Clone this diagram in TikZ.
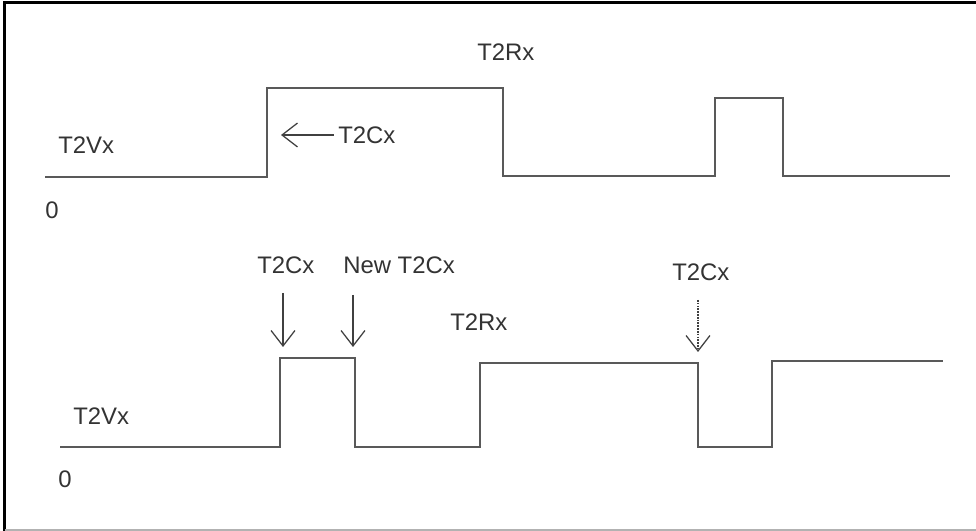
\documentclass[tikz,border=0pt]{standalone}
\usepackage{fontspec}
\setmainfont{Liberation Sans}
\usetikzlibrary{arrows.meta}
\begin{document}
\begin{tikzpicture}[x=.025cm,y=-.025cm,
  wave/.style={draw=black!65,line width=1.6pt,line join=miter},
  lbl/.style={inner sep=0,anchor=west,text=black!80,font=\fontsize{17}{20}\selectfont},
  ptr/.style={draw=black!75,line width=.9pt,-{Straight Barb[length=11pt,width=17pt]}}]
\useasboundingbox (0,0) rectangle (976,531);
\draw[line width=2.5pt] (4.5,531) -- (4.5,2.5) -- (976,2.5);
\draw[black!30,line width=1pt] (4.5,530) -- (976,530);
\coordinate (u0) at (45,177);
\coordinate (u1) at (267,177);
\coordinate (u2) at (267,88);
\coordinate (u3) at (503,88);
\coordinate (u4) at (503,176);
\coordinate (u5) at (715,176);
\coordinate (u6) at (715,98);
\coordinate (u7) at (783,98);
\coordinate (u8) at (783,176);
\coordinate (u9) at (950,176);
\draw[wave] (u0)--(u1)--(u2)--(u3)--(u4)--(u5)--(u6)--(u7)--(u8)--(u9);
\coordinate (l0) at (60,447);
\coordinate (l1) at (280,447);
\coordinate (l2) at (280,358);
\coordinate (l3) at (355,358);
\coordinate (l4) at (355,447);
\coordinate (l5) at (480,447);
\coordinate (l6) at (480,363);
\coordinate (l7) at (698,363);
\coordinate (l8) at (698,447);
\coordinate (l9) at (772,447);
\coordinate (l10) at (772,361);
\coordinate (l11) at (943,361);
\draw[wave] (l0)--(l1)--(l2)--(l3)--(l4)--(l5)--(l6)--(l7)--(l8)--(l9)--(l10)--(l11);
\node[lbl] (vxa) at (58,145) {T2Vx};
\node[lbl] (zeroa) at (45,210) {0};
\node[lbl] (cxa) at (338,135) {T2Cx};
\node[lbl] (rxa) at (477,52) {T2Rx};
\coordinate (cxatip) at (281,135);
\draw[ptr] ([xshift=-3pt]cxa.west) -- (cxatip);
\node[lbl] (vxb) at (73,416) {T2Vx};
\node[lbl] (zerob) at (58,479) {0};
\node[lbl] (cxb) at (257,265) {T2Cx};
\node[lbl] (newcx) at (343,265) {New T2Cx};
\node[lbl] (rxb) at (450,322) {T2Rx};
\node[lbl] (cxc) at (672,272) {T2Cx};
\coordinate (pb0) at (283,293);
\coordinate (pb1) at (283,347);
\coordinate (pn0) at (353,295);
\coordinate (pn1) at (353,347);
\coordinate (pc0) at (698,300);
\coordinate (pc1) at (698,352);
\draw[ptr] (pb0) -- (pb1);
\draw[ptr] (pn0) -- (pn1);
\draw[ptr,dash pattern=on 1.2pt off .8pt] (pc0) -- (pc1);
\end{tikzpicture}
\end{document}
